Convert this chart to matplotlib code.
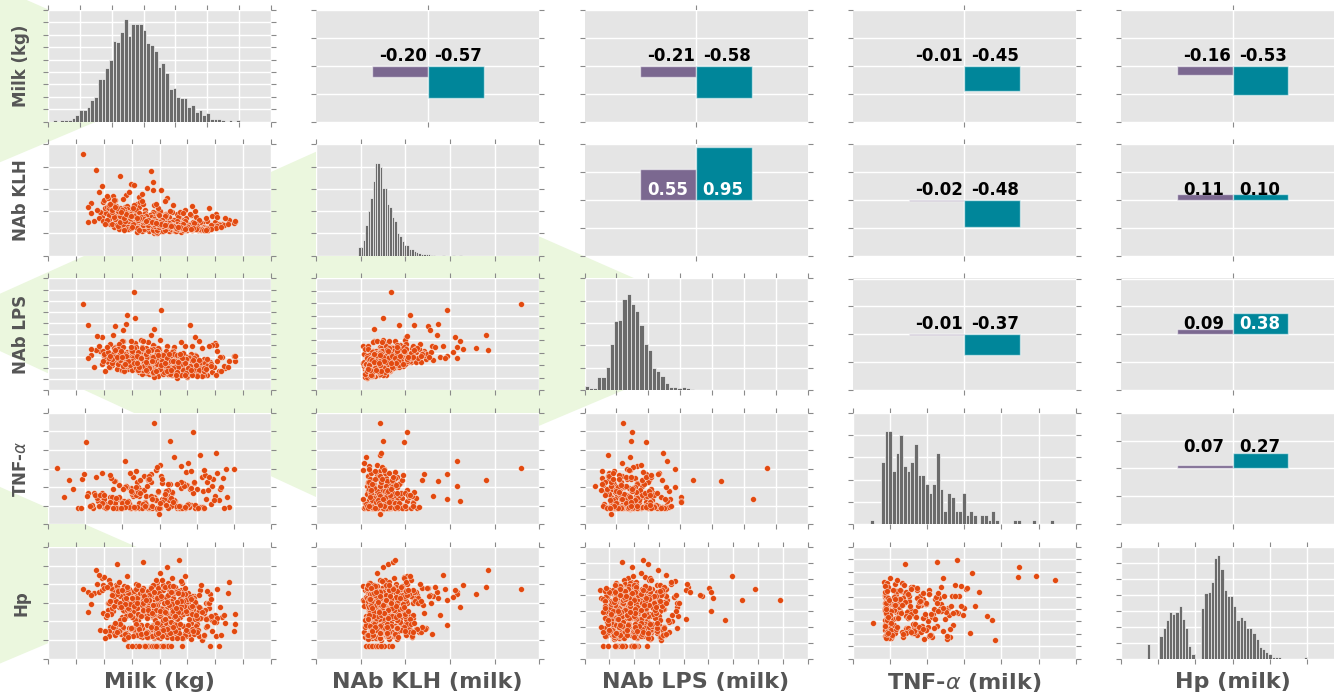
import numpy as np
import matplotlib
matplotlib.use("Agg")
import matplotlib.pyplot as plt
from matplotlib.patches import Polygon

# Per-cow records. TNF-alpha was only measured on the first len(tnf) cows.
milk = [
    6.2, 14.3, 19.8, 22.4, 11.7, 17.9, 25.1, 16.2, 20.6, 13.4,
    7.8, 18.4, 23.7, 15.1, 21.2, 28.6, 12.9, 19.1, 16.8, 24.3,
    8.3, 21.7, 17.3, 26.4, 13.8, 19.6, 22.9, 10.7, 18.2, 15.6,
    29.4, 16.4, 20.1, 12.2, 24.8, 17.6, 14.7, 21.9, 9.6, 18.9,
    27.2, 13.1, 19.4, 23.3, 16.0, 11.2, 20.9, 25.7, 15.3, 18.1,
    10.1, 22.6, 17.1, 14.0, 26.9, 19.3, 12.6, 21.4, 16.6, 23.9,
    30.0, 15.8, 18.7, 13.6, 20.4, 24.5, 11.9, 17.4, 22.1, 9.1,
    19.9, 14.9, 26.1, 16.9, 21.0, 12.4, 18.5, 28.1, 15.0, 20.3,
    7.1, 23.1, 17.8, 13.3, 25.4, 19.0, 16.3, 21.6, 11.4, 18.8,
    24.1, 14.5, 20.7, 17.0, 12.8, 27.6, 15.5, 22.8, 19.5, 10.4,
    16.1, 21.3, 13.9, 18.6, 25.9, 15.9, 20.0, 11.0, 23.5, 17.2,
    12.8, 19.4, 24.6, 16.1, 21.7, 10.9, 27.8, 18.0, 14.6, 22.9,
    17.2, 25.3, 13.5, 20.8, 9.4, 23.6, 15.7, 19.0, 28.9, 11.6,
    21.1, 16.7, 26.2, 14.0, 18.5, 24.0, 12.3, 20.2, 17.7, 27.0,
    15.2, 22.4, 10.3, 19.7, 25.9, 13.8, 18.2, 23.1, 16.4, 20.6,
    26.7, 14.4, 21.9, 17.5, 11.9, 24.3, 19.2, 15.9, 28.3, 22.0,
    13.1, 18.8, 23.4, 16.9, 20.4, 9.8, 25.6, 17.9, 14.9, 21.4,
    19.6, 27.4, 15.4, 22.7, 12.6, 18.4, 24.8, 16.3, 20.0, 26.0,
    11.3, 23.8, 17.0, 21.2, 14.2, 19.9, 25.1, 13.3, 18.6, 22.2,
    16.6, 20.9, 28.0, 15.0, 23.3, 18.1, 12.0, 21.6, 17.4, 24.5,
    14.1, 21.5, 18.3, 25.8, 12.2, 19.8, 23.0, 16.5, 27.3, 10.6,
    20.7, 15.3, 22.9, 17.8, 13.7, 24.2, 19.1, 28.7, 16.0, 21.8,
    11.8, 18.9, 26.5, 14.8, 20.3, 23.7, 17.1, 12.9, 22.3, 19.5,
    25.2, 16.8, 20.0, 13.4, 18.0, 29.1, 15.6, 21.1, 24.7, 17.4,
    19.0, 23.4, 14.5, 20.9, 16.2, 26.0, 12.5, 18.6, 22.6, 15.1,
    # no TNF-alpha from here on
    16.9, 18.2, 22.7, 15.4, 8.6, 20.5, 26.8, 13.7, 19.2, 24.0,
    9.7, 17.5, 21.1, 31.2, 14.2, 19.7, 23.4, 16.7, 12.0, 27.9,
    33.5, 15.2, 20.2, 18.0, 25.5, 13.0, 22.3, 17.7, 10.9, 29.0,
    21.8, 16.5, 19.0, 24.6, 14.4, 32.5, 18.3, 11.6, 22.0, 16.0,
    7.2, 20.8, 15.7, 26.3, 12.3, 19.4, 23.0, 17.1, 30.7, 14.8,
    18.9, 21.5, 13.5, 25.0, 16.4, 9.9, 20.1, 28.4, 17.3, 22.5,
    12.7, 19.6, 24.4, 15.6, 33.4, 18.0, 21.2, 14.1, 26.6, 16.9,
    20.4, 11.3, 17.6, 23.2, 30.1, 15.3, 19.8, 13.2, 22.6, 8.8,
    25.8, 16.2, 18.7, 12.1, 21.7, 27.3, 14.6, 20.0, 17.0, 23.7,
    10.5, 19.3, 15.9, 31.8, 22.2, 13.6, 18.4, 24.9, 16.8, 20.9,
    29.5, 14.3, 21.4, 17.4, 11.8, 26.0, 19.1, 15.1, 23.8, 18.6,
    7.7, 22.4, 16.6, 20.3, 28.8, 13.9, 19.9, 25.3, 17.8, 12.5,
    33.5, 18.1, 14.0, 21.0, 16.3, 24.2, 10.2, 19.5, 27.0, 15.5,
    20.6, 17.2, 23.1, 13.4, 18.8, 30.4, 15.0, 21.9, 12.9, 26.5,
    18.7, 22.1, 14.8, 25.6, 11.4, 20.3, 16.9, 27.5, 13.2, 23.8,
    19.5, 15.6, 21.6, 28.7, 12.5, 17.8, 24.7, 10.0, 20.7, 26.4,
    16.2, 23.0, 13.9, 19.1, 30.9, 15.0, 22.8, 18.3, 11.1, 25.2,
    21.3, 17.6, 26.9, 14.1, 20.0, 24.1, 12.9, 18.9, 29.8, 16.5,
    23.5, 10.8, 19.8, 15.3, 27.1, 21.8, 13.6, 17.3, 25.0, 20.5,
    14.5, 22.6, 18.0, 31.5, 16.1, 12.2, 24.4, 19.4, 9.2, 26.8,
    20.2, 15.8, 28.2, 17.1, 23.2, 13.0, 21.0, 18.5, 25.8, 11.7,
    17.7, 24.9, 14.3, 19.6, 22.3, 29.2, 16.0, 20.8, 12.7, 27.7,
    23.9, 18.2, 15.5, 21.5, 10.6, 26.1, 19.0, 14.0, 22.9, 17.0,
    32.2, 20.1, 16.7, 24.2, 13.4, 18.8, 28.5, 15.2, 21.2, 11.9,
    19.3, 25.5, 17.5, 22.5, 14.7, 30.3, 20.6, 16.4, 23.6, 12.4,
    17.9, 22.8, 13.6, 20.1, 26.2, 15.4, 19.2, 24.3, 11.5, 21.0,
    16.3, 23.9, 18.6, 28.0, 14.2, 20.7, 17.0, 25.4, 12.8, 22.2,
    19.9, 15.1, 21.9, 27.1, 18.1, 13.0, 23.3, 16.8, 30.2, 20.4,
    14.7, 24.6, 17.4, 21.4, 10.9, 19.6, 26.7, 15.9, 22.5, 18.4,
    23.1, 16.6, 20.8, 12.6, 25.1, 18.8, 29.3, 14.4, 21.7, 17.2,
    20.6, 13.9, 24.0, 17.7, 22.0, 15.7, 27.9, 19.4, 11.2, 23.6,
    18.2, 21.2, 15.0, 25.9, 19.0, 12.3, 22.7, 16.1, 28.6, 20.0,
    14.0, 24.8, 18.9, 21.6, 16.4, 26.5, 13.3, 19.7, 23.0, 17.5,
    22.4, 15.5, 20.3, 31.0, 17.9, 24.5, 12.0, 21.3, 18.7, 26.0,
    16.0, 23.4, 19.3, 14.9, 25.7, 20.9, 17.6, 13.1, 22.1, 28.3,
]
nab_klh = [
    2.29, 0.72, 0.64, 0.81, 1.02, 0.58, 0.69, 0.76, 0.55, 0.88,
    1.18, 0.67, 0.74, 0.95, 0.61, 0.78, 0.83, 0.52, 0.71, 0.66,
    0.79, 0.86, 0.57, 0.63, 1.09, 0.75, 0.59, 0.98, 0.68, 0.80,
    0.70, 1.31, 0.62, 0.77, 0.84, 0.73, 0.90, 0.56, 0.87, 1.47,
    0.60, 0.74, 0.96, 0.65, 0.54, 0.72, 0.79, 0.91, 1.58, 0.69,
    0.98, 0.71, 0.82, 1.37, 0.58, 0.72, 0.97, 0.75, 0.75, 0.53,
    0.76, 0.89, 0.60, 0.70, 0.81, 1.02, 0.64, 1.02, 0.73, 0.84,
    0.72, 1.61, 0.68, 0.55, 0.93, 0.80, 1.90, 0.62, 0.74, 1.47,
    0.75, 0.57, 0.78, 0.65, 0.71, 1.13, 0.69, 0.59, 0.72, 0.99,
    0.81, 0.61, 0.74, 0.86, 0.67, 0.73, 1.58, 0.66, 0.52, 0.95,
    0.70, 0.62, 0.79, 0.94, 0.58, 1.08, 0.68, 0.82, 0.88, 0.63,
    0.74, 0.62, 0.58, 0.83, 0.69, 0.91, 0.61, 0.77, 1.04, 0.66,
    0.71, 0.64, 0.88, 0.57, 0.97, 0.73, 0.80, 0.68, 0.59, 1.12,
    0.63, 0.92, 0.70, 0.76, 0.85, 0.60, 0.99, 0.72, 0.65, 0.78,
    0.86, 0.67, 1.07, 0.74, 0.62, 0.81, 0.56, 0.94, 0.70, 0.65,
    0.69, 1.01, 0.75, 0.60, 0.89, 0.66, 0.78, 1.15, 0.63, 0.72,
    0.95, 0.58, 0.82, 0.68, 0.77, 1.21, 0.61, 0.73, 0.87, 0.64,
    0.79, 0.66, 0.90, 0.57, 0.84, 0.71, 0.69, 1.10, 0.62, 0.76,
    1.03, 0.63, 0.75, 0.93, 0.67, 0.80, 0.59, 0.85, 0.72, 0.98,
    0.68, 0.77, 0.64, 1.06, 0.60, 0.88, 0.83, 0.70, 0.96, 0.61,
    0.78, 0.64, 0.71, 0.60, 0.93, 0.68, 0.75, 0.86, 0.62, 1.09,
    0.70, 0.83, 0.59, 0.77, 0.96, 0.65, 0.73, 0.58, 0.81, 0.67,
    1.00, 0.72, 0.61, 0.88, 0.66, 0.74, 0.79, 0.91, 0.63, 0.69,
    0.64, 0.85, 0.70, 0.97, 0.76, 0.60, 0.82, 0.68, 0.73, 0.90,
    0.75, 0.62, 0.89, 0.71, 0.80, 0.66, 1.05, 0.74, 0.59, 0.84,
    0.71, 0.71, 0.63, 0.84, 1.92, 0.77, 0.69, 0.92, 0.58, 0.74,
    1.56, 0.66, 0.80, 0.72, 1.12, 0.60, 0.87, 0.75, 1.25, 0.64,
    0.76, 0.98, 0.55, 0.70, 0.93, 1.79, 0.67, 0.82, 1.06, 0.59,
    0.73, 1.20, 0.65, 0.78, 0.61, 0.81, 0.91, 1.35, 0.57, 0.69,
    1.10, 0.83, 0.74, 1.01, 0.68, 0.53, 0.76, 1.15, 0.72, 0.62,
    0.88, 0.57, 1.27, 0.66, 0.71, 0.78, 1.00, 0.84, 0.60, 1.14,
    0.59, 0.79, 0.70, 0.75, 0.73, 0.64, 0.92, 1.05, 0.86, 1.39,
    0.67, 1.19, 0.85, 0.61, 0.94, 0.72, 1.07, 0.69, 0.80, 1.02,
    1.12, 0.63, 0.77, 0.90, 0.56, 0.75, 1.44, 0.83, 0.68, 0.97,
    0.81, 1.17, 0.62, 0.84, 0.71, 0.58, 0.76, 0.65, 1.23, 0.89,
    0.90, 0.77, 1.30, 0.69, 0.86, 0.63, 0.55, 0.99, 0.74, 0.80,
    0.95, 0.68, 0.73, 0.61, 1.08, 0.82, 0.92, 0.70, 1.53, 0.66,
    0.79, 0.74, 0.87, 1.22, 0.57, 0.96, 0.72, 0.64, 0.81, 1.03,
    0.60, 0.93, 0.78, 0.71, 1.65, 0.86, 0.64, 1.01, 0.75, 0.72,
    0.66, 0.59, 0.82, 0.63, 0.97, 0.71, 0.76, 0.58, 0.88, 0.65,
    0.73, 0.85, 0.62, 0.57, 1.08, 0.69, 0.60, 1.24, 0.78, 0.64,
    0.91, 0.67, 0.79, 0.74, 0.68, 1.00, 0.56, 0.81, 1.16, 0.62,
    0.70, 0.87, 0.61, 0.94, 0.64, 0.72, 0.99, 0.58, 0.66, 0.83,
    0.60, 1.29, 0.77, 0.89, 0.63, 0.68, 1.05, 0.75, 0.57, 0.80,
    0.93, 0.65, 0.72, 0.70, 0.84, 1.11, 0.61, 0.79, 1.42, 0.67,
    0.74, 1.02, 0.62, 0.68, 0.71, 0.90, 0.59, 0.86, 0.64, 1.19,
    0.81, 0.66, 0.96, 0.57, 0.75, 0.69, 0.88, 0.63, 1.01, 0.60,
    0.69, 0.78, 1.13, 0.62, 1.33, 0.73, 0.82, 0.92, 0.56, 0.76,
    0.71, 0.64, 0.85, 0.58, 0.98, 0.67, 0.62, 1.07, 0.74, 1.26,
    0.77, 0.61, 0.89, 0.70, 0.84, 0.66, 0.55, 0.95, 0.68, 1.04,
    0.69, 0.62, 0.84, 0.75, 0.60, 0.91, 0.66, 0.71, 1.02, 0.58,
    0.80, 0.63, 0.73, 0.57, 0.95, 0.67, 0.87, 0.61, 0.99, 0.70,
    0.64, 0.89, 0.72, 0.59, 0.78, 1.06, 0.65, 0.82, 0.62, 0.74,
    0.93, 0.60, 0.76, 0.68, 1.14, 0.71, 0.63, 0.85, 0.66, 0.79,
    0.61, 0.88, 0.70, 1.01, 0.64, 0.77, 0.59, 0.92, 0.73, 0.83,
    0.67, 0.97, 0.62, 0.80, 0.69, 0.86, 0.58, 0.74, 1.17, 0.65,
    0.76, 0.68, 0.90, 0.61, 0.72, 1.08, 0.64, 0.81, 0.60, 0.70,
    0.94, 0.63, 0.75, 0.66, 0.85, 0.59, 1.03, 0.72, 0.62, 0.78,
    0.66, 0.89, 0.71, 0.64, 0.80, 0.61, 1.10, 0.69, 0.76, 0.63,
    0.84, 0.65, 0.73, 0.90, 0.60, 0.70, 0.79, 0.98, 0.67, 0.58,
]
nab_lps = [
    3.49, 1.28, 0.84, 1.62, 1.18, 0.96, 1.28, 0.85, 0.85, 1.99,
    1.42, 1.24, 0.94, 1.73, 1.00, 0.61, 1.35, 1.79, 0.81, 1.21,
    0.92, 1.32, 0.81, 1.41, 1.22, 1.10, 1.21, 1.11, 1.00, 1.89,
    0.73, 1.20, 0.87, 1.60, 1.16, 0.70, 1.39, 1.10, 1.04, 1.38,
    1.12, 0.81, 1.44, 0.81, 1.45, 0.92, 1.12, 1.47, 1.74, 0.76,
    1.37, 1.72, 0.99, 2.68, 1.05, 0.97, 1.78, 1.12, 0.73, 0.95,
    1.88, 0.99, 1.22, 0.77, 1.29, 1.13, 1.59, 1.11, 1.05, 1.60,
    0.76, 1.99, 0.90, 1.65, 1.04, 1.43, 2.20, 0.78, 1.54, 3.24,
    1.30, 0.49, 1.24, 1.98, 0.71, 1.69, 0.73, 1.08, 1.02, 1.82,
    0.85, 1.03, 1.37, 0.93, 1.05, 1.68, 1.30, 0.78, 1.09, 1.29,
    1.49, 1.01, 0.80, 1.38, 1.77, 1.16, 1.28, 0.91, 1.32, 0.87,
    1.12, 1.48, 0.63, 1.41, 0.67, 1.39, 0.72, 1.43, 1.22, 1.07,
    0.79, 1.33, 1.19, 0.92, 1.57, 0.63, 1.74, 0.89, 1.04, 1.27,
    1.27, 0.98, 1.02, 0.97, 1.65, 0.81, 1.50, 0.71, 1.23, 0.98,
    1.00, 1.59, 1.39, 1.14, 0.70, 1.47, 0.64, 1.22, 1.49, 0.84,
    1.11, 1.09, 1.37, 0.89, 1.36, 0.61, 1.63, 1.30, 0.88, 0.79,
    1.55, 0.80, 1.21, 0.66, 1.45, 1.58, 0.65, 1.15, 1.06, 1.22,
    0.83, 1.07, 1.18, 0.90, 1.71, 0.72, 1.18, 1.20, 0.87, 1.08,
    1.30, 1.24, 0.83, 1.34, 1.04, 1.64, 0.69, 1.26, 0.73, 1.47,
    0.97, 0.85, 1.25, 1.13, 1.02, 1.03, 1.51, 0.63, 1.31, 1.36,
    1.09, 1.22, 0.77, 0.94, 1.15, 1.43, 0.70, 1.38, 0.74, 1.51,
    0.99, 1.52, 0.66, 1.18, 1.06, 1.15, 0.93, 0.93, 0.79, 1.45,
    1.21, 1.08, 0.59, 1.47, 0.91, 1.39, 0.91, 1.37, 0.60, 1.19,
    0.88, 1.72, 0.85, 1.47, 0.82, 1.10, 1.11, 1.06, 0.77, 1.56,
    0.95, 1.08, 0.93, 1.44, 1.13, 0.74, 1.45, 0.80, 1.12, 1.13,
    1.59, 0.83, 0.95, 3.97, 1.62, 1.40, 0.65, 1.27, 1.65, 0.83,
    2.15, 1.24, 1.02, 1.33, 1.54, 0.56, 1.26, 2.03, 2.60, 0.62,
    1.19, 1.01, 1.06, 0.92, 2.64, 1.70, 1.49, 0.93, 1.48, 1.14,
    0.75, 1.49, 2.47, 1.76, 0.83, 1.19, 1.15, 2.23, 1.30, 1.13,
    2.64, 0.75, 1.23, 2.15, 0.84, 1.15, 0.71, 1.64, 0.78, 1.54,
    0.97, 0.91, 2.43, 1.25, 0.80, 1.19, 2.01, 0.87, 1.19, 1.31,
    1.43, 1.18, 0.59, 2.90, 1.38, 1.92, 0.95, 3.04, 1.36, 1.35,
    1.16, 1.44, 1.71, 0.68, 1.82, 1.12, 1.68, 0.82, 1.05, 2.17,
    1.15, 1.23, 1.02, 1.72, 0.95, 0.60, 1.30, 1.26, 1.96, 0.96,
    1.51, 1.13, 1.17, 0.88, 1.53, 0.76, 1.12, 1.24, 1.26, 1.16,
    1.81, 0.98, 1.77, 0.97, 1.69, 0.96, 0.52, 1.47, 1.94, 0.87,
    1.67, 0.65, 1.26, 0.81, 1.78, 0.98, 1.24, 1.28, 1.52, 1.05,
    1.36, 0.90, 1.47, 1.40, 1.37, 1.28, 0.78, 1.10, 1.96, 1.12,
    1.20, 0.94, 1.23, 0.98, 1.66, 1.56, 0.80, 1.30, 1.48, 0.69,
    1.18, 0.72, 1.62, 0.87, 1.09, 1.25, 0.99, 1.15, 1.34, 0.60,
    1.58, 0.98, 0.95, 1.02, 1.38, 0.76, 1.25, 1.45, 1.21, 0.81,
    1.53, 0.68, 1.25, 0.89, 1.35, 1.03, 1.04, 1.06, 1.87, 0.66,
    1.03, 1.43, 0.73, 1.03, 1.39, 0.96, 1.54, 0.70, 0.94, 0.80,
    1.16, 1.54, 0.81, 1.37, 0.80, 1.36, 1.19, 1.12, 0.52, 1.33,
    1.12, 1.47, 0.99, 0.96, 0.92, 1.66, 0.76, 1.43, 1.77, 0.59,
    1.13, 1.18, 1.08, 0.81, 1.42, 1.21, 0.93, 0.91, 1.17, 1.44,
    1.32, 0.55, 1.35, 1.28, 0.86, 1.03, 1.01, 0.92, 1.86, 0.56,
    1.04, 0.99, 1.69, 0.66, 1.73, 1.30, 0.82, 1.22, 1.03, 0.94,
    0.91, 1.24, 0.92, 0.79, 1.73, 0.78, 0.97, 1.29, 1.57, 1.35,
    1.17, 0.70, 1.45, 0.67, 1.19, 1.19, 0.65, 1.31, 1.38, 1.29,
    1.06, 0.69, 1.45, 0.94, 1.18, 0.99, 1.07, 1.50, 1.24, 0.83,
    1.28, 0.59, 1.34, 0.78, 1.19, 1.41, 0.98, 0.95, 1.59, 0.72,
    1.14, 1.18, 0.64, 1.21, 0.94, 1.50, 0.91, 1.69, 0.60, 1.18,
    1.02, 1.10, 0.98, 1.31, 1.30, 1.06, 0.55, 1.38, 0.88, 1.60,
    0.73, 1.30, 0.74, 1.66, 0.88, 0.72, 0.98, 1.16, 1.45, 0.95,
    1.01, 1.06, 1.28, 1.06, 1.16, 0.89, 0.89, 1.29, 1.37, 1.46,
    0.87, 0.96, 1.59, 0.59, 1.18, 1.33, 1.16, 0.79, 1.25, 0.85,
    1.38, 0.67, 1.35, 0.89, 0.92, 1.02, 1.32, 1.42, 0.59, 1.15,
    1.18, 1.07, 1.00, 0.76, 1.56, 0.61, 1.60, 0.77, 1.17, 1.21,
    1.07, 1.11, 0.78, 1.74, 0.79, 1.08, 0.81, 1.58, 0.79, 0.84,
]
hp = [
    3.76, 2.84, 1.42, 3.31, 2.57, 1.18, 3.05, 2.22, 3.68, 1.63,
    2.95, 3.42, 1.27, 2.68, 3.87, 2.13, 1.55, 3.16, 2.46, 1.09,
    3.52, 2.31, 2.79, 1.74, 3.24, 4.12, 1.36, 2.61, 3.09, 2.02,
    1.48, 3.35, 2.52, 3.95, 1.21, 2.88, 3.63, 2.27, 4.31, 1.81,
    2.71, 1.33, 3.47, 2.39, 3.12, 1.67, 2.93, 1.05, 3.58, 2.48,
    4.36, 2.66, 1.52, 3.28, 2.15, 4.25, 3.74, 4.90, 1.24, 2.83,
    2.36, 3.99, 1.71, 2.55, 3.19, 4.42, 1.39, 3.01, 2.44, 3.56,
    1.92, 2.76, 3.38, 1.14, 2.62, 5.10, 3.83, 2.19, 1.58, 3.13,
    2.51, 3.66, 1.29, 2.98, 2.08, 3.44, 1.86, 4.05, 2.73, 1.45,
    3.22, 2.42, 1.61, 5.20, 2.89, 1.02, 3.49, 2.58, 3.91, 2.25,
    1.37, 3.07, 2.64, 1.77, 3.34, 2.17, 4.58, 1.50, 5.30, 2.81,
    2.78, 1.41, 3.33, 2.05, 3.71, 1.22, 2.49, 3.14, 1.66, 2.92,
    3.48, 1.30, 2.63, 3.86, 1.53, 2.21, 3.02, 1.12, 2.74, 3.59,
    1.74, 2.97, 3.25, 1.38, 2.56, 4.08, 1.85, 2.35, 3.44, 1.19,
    3.10, 2.40, 1.47, 3.78, 2.68, 1.03, 3.29, 2.14, 1.61, 3.96,
    2.52, 1.26, 3.63, 2.85, 1.79, 3.37, 2.28, 1.44, 2.99, 3.18,
    1.56, 3.52, 2.71, 1.35, 4.22, 2.46, 1.90, 3.07, 2.60, 1.15,
    3.41, 2.18, 1.68, 3.84, 2.93, 1.49, 2.58, 3.27, 1.09, 2.81,
    2.37, 3.69, 1.33, 2.66, 3.05, 1.80, 3.51, 2.24, 1.58, 4.35,
    3.00, 1.71, 2.43, 3.39, 1.24, 2.89, 3.74, 1.97, 2.54, 1.36,
    2.61, 1.37, 3.45, 2.19, 1.58, 3.02, 2.77, 1.23, 3.66, 2.34,
    1.49, 3.28, 2.53, 1.81, 3.90, 2.42, 1.16, 2.98, 3.35, 1.69,
    3.14, 2.26, 1.44, 3.58, 2.70, 1.27, 3.81, 2.09, 1.62, 2.89,
    2.45, 1.53, 3.22, 2.82, 1.35, 3.47, 2.16, 1.75, 3.01, 2.57,
    1.30, 3.63, 2.38, 1.92, 3.10, 2.64, 1.41, 3.39, 2.23, 1.57,
    2.92, 0.65, 1.35, 3.17, 4.75, 2.44, 1.88, 3.53, 2.06, 0.65,
    3.71, 1.46, 2.69, 2.23, 3.06, 0.65, 1.58, 2.97, 3.82, 1.19,
    2.40, 3.27, 1.73, 0.65, 2.55, 3.48, 1.11, 0.65, 4.21, 0.65,
    1.64, 2.87, 3.36, 1.25, 0.65, 4.10, 2.33, 3.59, 1.97, 2.74,
    3.60, 1.53, 0.65, 2.12, 3.89, 1.40, 2.60, 3.15, 0.65, 2.49,
    1.21, 0.65, 3.43, 2.78, 1.82, 3.97, 2.28, 1.68, 0.65, 3.23,
    2.94, 1.31, 3.62, 2.05, 1.49, 3.30, 2.51, 4.44, 1.76, 2.36,
    0.65, 3.80, 1.43, 2.65, 1.96, 3.11, 1.16, 2.86, 3.55, 4.02,
    1.59, 2.99, 3.46, 1.28, 0.65, 2.20, 3.73, 1.87, 2.57, 3.18,
    2.32, 1.44, 3.26, 1.91, 2.70, 1.06, 3.40, 2.47, 1.62, 3.85,
    2.09, 3.51, 1.34, 0.65, 2.83, 3.14, 1.69, 2.38, 4.16, 1.23,
    3.40, 2.58, 1.78, 0.65, 2.96, 3.67, 1.47, 2.11, 3.32, 1.84,
    1.85, 3.02, 2.29, 1.57, 3.77, 2.67, 1.13, 0.65, 3.41, 2.53,
    1.38, 3.25, 2.75, 1.66, 3.93, 2.18, 0.65, 3.08, 1.52, 2.90,
    0.65, 3.12, 1.57, 2.71, 3.44, 1.29, 2.86, 3.97, 1.73, 2.48,
    3.35, 1.42, 2.93, 2.20, 3.68, 1.16, 2.57, 3.81, 1.62, 3.05,
    2.39, 3.59, 1.34, 0.65, 2.77, 3.23, 1.88, 2.62, 4.03, 1.47,
    3.16, 2.29, 1.51, 3.72, 2.44, 1.08, 3.38, 2.87, 1.95, 3.53,
    1.39, 2.98, 3.46, 1.65, 2.53, 3.90, 2.12, 0.65, 3.27, 1.21,
    2.68, 1.54, 3.63, 2.35, 1.76, 3.09, 2.81, 1.31, 4.48, 2.16,
    3.28, 1.83, 2.60, 3.49, 1.12, 2.96, 0.65, 3.77, 2.41, 1.69,
    1.44, 3.20, 2.73, 1.93, 3.58, 2.27, 1.26, 3.01, 4.12, 2.50,
    2.84, 3.42, 1.60, 0.65, 3.86, 1.37, 2.64, 3.17, 1.81, 2.99,
    3.54, 1.48, 2.31, 3.11, 1.70, 2.90, 3.65, 1.19, 2.46, 3.36,
    1.63, 2.75, 3.31, 1.40, 2.95, 3.76, 2.07, 1.52, 2.69, 3.47,
    2.73, 1.46, 3.19, 2.55, 1.32, 3.64, 2.88, 1.75, 3.42, 2.14,
    1.61, 3.07, 2.36, 1.27, 3.83, 0.65, 2.62, 3.31, 1.50, 2.94,
    3.52, 2.21, 1.39, 2.79, 3.15, 1.86, 2.48, 3.71, 1.22, 2.67,
    2.32, 3.46, 0.65, 1.58, 2.99, 3.24, 1.43, 2.71, 3.88, 1.67,
    3.05, 1.34, 2.58, 3.62, 1.79, 2.40, 3.20, 1.18, 2.86, 3.37,
    1.52, 2.92, 3.48, 2.19, 0.65, 3.75, 1.29, 2.63, 3.10, 1.84,
    2.47, 3.33, 1.64, 2.81, 3.57, 1.41, 2.28, 3.94, 1.73, 2.56,
    3.26, 1.55, 2.90, 3.44, 0.65, 2.35, 3.68, 1.36, 2.74, 3.13,
    1.70, 2.83, 3.39, 1.25, 2.60, 3.80, 1.91, 3.04, 2.44, 1.48,
    2.96, 3.55, 0.65, 1.62, 3.21, 2.52, 1.38, 2.78, 3.60, 2.11,
]
tnf = [
    152, 47, 88, 44, 63, 131, 45, 97, 56, 72,
    119, 43, 105, 48, 79, 124, 46, 67, 142, 51,
    95, 84, 45, 113, 60, 42, 158, 49, 76, 101,
    46, 76, 58, 137, 44, 92, 65, 181, 121, 135,
    121, 49, 70, 108, 45, 83, 53, 127, 170, 61,
    222, 44, 99, 116, 54, 272, 47, 224, 86, 164,
    148, 57, 43, 74, 110, 247, 48, 91, 62, 45,
    27, 62, 133, 46, 78, 70, 119, 95, 52, 68,
    73, 102, 47, 59, 187, 44, 81, 66, 128, 49,
    94, 45, 71, 113, 55, 192, 103, 43, 146, 85,
    48, 64, 117, 46, 90, 58, 160, 45, 140, 77,
    45, 66, 112, 44, 87, 53, 139, 47, 74, 98,
    58, 46, 125, 81, 43, 106, 62, 49, 150, 71,
    93, 44, 68, 57, 118, 46, 84, 130, 45, 102,
    63, 48, 77, 154, 44, 96, 55, 110, 47, 69,
    126, 45, 59, 88, 49, 143, 72, 46, 99, 64,
    51, 115, 44, 80, 60, 135, 47, 92, 56, 107,
    43, 75, 101, 48, 67, 122, 52, 86, 45, 145,
    79, 54, 46, 109, 70, 44, 95, 61, 131, 50,
    47, 89, 65, 45, 104, 57, 78, 48, 119, 83,
    44, 71, 103, 46, 58, 89, 45, 127, 64, 50,
    82, 47, 115, 55, 43, 97, 68, 45, 138, 60,
    49, 76, 92, 44, 121, 53, 86, 46, 109, 66,
    45, 99, 57, 132, 48, 74, 61, 44, 113, 84,
    67, 46, 105, 52, 90, 45, 78, 123, 48, 95,
]

# Diagonal histograms: 50 equal bins between the given limits.
milk_counts = [
    1, 0, 1, 1, 1, 3, 5, 9, 9, 12, 17, 20, 34, 34, 43, 50, 65, 64, 72, 83,
    69, 79, 79, 79, 74, 63, 62, 57, 44, 47, 39, 26, 27, 20, 19, 19, 12, 13, 8, 9,
    5, 7, 2, 2, 2, 1, 0, 1, 0, 1,
]
milk_bins = (0.78, 30.1)
klh_counts = [
    20, 20, 36, 70, 100, 130, 167, 209, 207, 200, 151, 151, 117, 109, 88, 79, 50, 44, 32, 25,
    23, 15, 16, 11, 9, 7, 5, 4, 3, 3, 2, 2, 0, 0, 0, 1, 0, 0, 0, 1,
    0, 0, 1, 0, 0, 0, 0, 0, 0, 0,
]
klh_bins = (0.47, 1.82)
lps_counts = [
    4, 2, 2, 12, 12, 21, 41, 62, 63, 82, 86, 77, 71, 58, 41, 36, 20, 17, 13, 6,
    3, 3, 2, 3, 2, 1, 0, 0, 0, 0, 0, 0, 0, 0, 0, 0, 0, 0, 0, 0,
    0, 0, 0, 0, 0, 0, 0, 0, 0, 0,
]
lps_bins = (0.0, 3.31)
tnf_counts = [
    1, 0, 0, 14, 21, 21, 12, 16, 20, 13, 12, 14, 18, 11, 11, 9, 7, 9, 16, 8,
    3, 7, 6, 3, 3, 7, 2, 3, 2, 0, 2, 2, 1, 3, 1, 0, 0, 0, 0, 1,
    1, 0, 0, 0, 1, 0, 0, 0, 0, 1,
]
tnf_bins = (23, 270.7)
hp_counts = [
    9, 0, 0, 0, 14, 19, 24, 29, 28, 29, 33, 25, 19, 8, 3, 0, 0, 32, 41, 42,
    48, 63, 65, 56, 43, 39, 39, 33, 24, 26, 24, 19, 19, 16, 12, 7, 6, 4, 3, 1,
    1, 1, 0, 0, 0, 0, 0, 0, 0, 1,
]
hp_bins = (0.69, 5.0)

# Correlations above the diagonal, row-major over the upper triangle:
# (0,1) (0,2) (0,3) (0,4) (1,2) (1,3) (1,4) (2,3) (2,4) (3,4)
corr_pheno = [-0.20, -0.21, -0.01, -0.16, 0.55, -0.02, 0.11, -0.01, 0.09, 0.07]
corr_genetic = [-0.57, -0.58, -0.45, -0.53, 0.95, -0.48, 0.10, -0.37, 0.38, 0.27]

row_labels = ["Milk (kg)", "NAb KLH", "NAb LPS", r"TNF-$\alpha$", "Hp"]
col_labels = ["Milk (kg)", "NAb KLH (milk)", "NAb LPS (milk)",
              r"TNF-$\alpha$ (milk)", "Hp (milk)"]

PANEL_BG = "#e5e5e5"
ORANGE = "#e2490f"
PURPLE = "#7b6890"
TEAL = "#00869a"
HIST_GREY = "#6b6b6b"
LABEL_GREY = "#555555"
GREEN = "#ebf7de"

W, H = 1334, 698
n_tnf = len(tnf)
columns = [np.array(milk), np.array(nab_klh), np.array(nab_lps), None, np.array(hp)]

# scatter limits (lo, hi, tick intervals) by variable, with per-panel overrides
x_range = {0: (0, 40, 8), 1: (0, 2.5, 5), 2: (0.2, 4.5, 9), 3: (0, 300, 6)}
y_range = {1: (0, 2.5, 5), 2: (0, 4.5, 9), 3: (0, 300, 6), 4: (0, 6, 6)}
x_override = {(3, 0): (5, 35, 6), (3, 2): (0.3, 4.2, 7)}
y_override = {(2, 0): (0, 4.5, 10), (4, 2): (0, 6, 7), (4, 3): (0, 6, 9)}

hists = [
    (milk_counts, milk_bins, (0, 35, 7), (0, 90, 9)),
    (klh_counts, klh_bins, (0, 2.5, 5), (0, 250, 5)),
    (lps_counts, lps_bins, (0, 3.5, 7), (0, 100, 5)),
    (tnf_counts, tnf_bins, (0, 300, 6), (0, 25, 5)),
    (hp_counts, hp_bins, (0, 6, 6), (0, 70, 7)),
]


def panel_axes(fig, row, col):
    left = 48 + 268.25 * col
    top = 10 + 134.25 * row
    ax = fig.add_axes([left / W, 1 - (top + 111.5) / H, 223 / W, 111.5 / H])
    ax.set_facecolor(PANEL_BG)
    for s in ax.spines.values():
        s.set_visible(False)
    ax.tick_params(direction="out", length=3.5, width=0.8, color="#8a8a8a",
                   top=True, right=True, labelbottom=False, labelleft=False)
    ax.grid(True, color="white", linewidth=1.0)
    ax.set_axisbelow(True)
    return ax


def set_range(ax, axis, lo, hi, n):
    ticks = np.linspace(lo, hi, n + 1)
    if axis == "x":
        ax.set_xlim(lo, hi)
        ax.set_xticks(ticks)
    else:
        ax.set_ylim(lo, hi)
        ax.set_yticks(ticks)


def values(var, subset):
    if var == 3:
        return np.array(tnf, dtype=float)
    v = columns[var]
    return v[:n_tnf] if subset else v


fig = plt.figure(figsize=(W / 100, H / 100), dpi=100)

# pale green chevrons behind the grid
kite = np.array([(-63, 322), (331, 145), (759, 333), (342, 509)], dtype=float)
for dx, dy in [(-557, -256), (0, 0), (-554, 244)]:
    pts = kite + (dx, dy)
    fig.add_artist(Polygon(np.c_[pts[:, 0] / W, 1 - pts[:, 1] / H], closed=True,
                           transform=fig.transFigure, facecolor=GREEN,
                           edgecolor="none", zorder=-1))

k = 0
for i in range(5):
    for j in range(5):
        ax = panel_axes(fig, i, j)
        if i == j:
            counts, (lo, hi), xr, yr = hists[i]
            edges = np.linspace(lo, hi, len(counts) + 1)
            ax.bar(edges[:-1], counts, width=np.diff(edges), align="edge",
                   color=HIST_GREY, edgecolor="#f2f2f2", linewidth=0.5, zorder=2)
            set_range(ax, "x", *xr)
            set_range(ax, "y", *yr)
        elif i > j:
            subset = (i == 3 or j == 3)
            x = values(j, subset)
            y = values(i, subset)
            ax.scatter(x, y, s=18, color=ORANGE, edgecolors=(1, 1, 1, 0.6),
                       linewidths=0.5, zorder=3)
            set_range(ax, "x", *x_override.get((i, j), x_range[j]))
            set_range(ax, "y", *y_override.get((i, j), y_range[i]))
        else:
            vals = [corr_pheno[k], corr_genetic[k]]
            k += 1
            ax.bar([-0.25, 0.25], vals, width=0.5, color=[PURPLE, TEAL],
                   edgecolor=(1, 1, 1, 0.55), linewidth=1.0, zorder=2)
            top = max(max(vals), 0)
            label_y = top - 0.05 if 0.15 < top < 0.3 else 0.02
            for x0, v in zip([-0.5, 0.0], vals):
                ax.text(x0 + 0.06, label_y, f"{v:.2f}", ha="left", va="bottom",
                        fontsize=12, fontweight="bold",
                        color="white" if v >= 0.3 else "black", zorder=4)
            ax.set_xlim(-1, 1)
            ax.set_ylim(-1, 1)
            ax.set_xticks([0])
            ax.set_yticks([-1, -0.5, 0, 0.5, 1])

for i, label in enumerate(row_labels):
    fig.text(21 / W, 1 - (10 + 134.25 * i + 55.75) / H, label, rotation=90,
             ha="center", va="center", fontsize=12, fontweight="bold",
             color=LABEL_GREY)
for j, label in enumerate(col_labels):
    fig.text((48 + 268.25 * j + 111.5) / W, 1 - 682 / H, label, ha="center",
             va="center", fontsize=16, fontweight="bold", color=LABEL_GREY)

fig.savefig("out.png", dpi=100)
